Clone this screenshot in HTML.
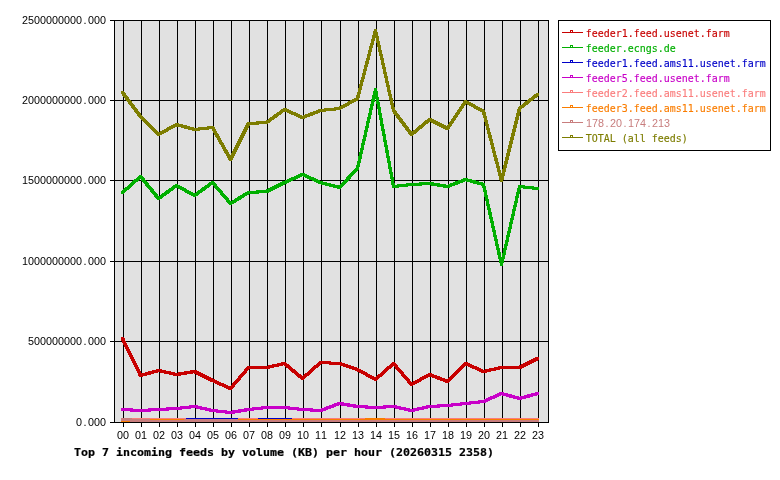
<!DOCTYPE html>
<html><head><meta charset="utf-8"><title>Top 7 incoming feeds by volume</title>
<style>html,body{margin:0;padding:0;background:#fff}svg{display:block}text{font-family:"DejaVu Sans Mono","Liberation Mono",monospace}text.d{font-family:"Liberation Sans","DejaVu Sans",sans-serif}</style></head><body>
<svg width="780" height="480" viewBox="0 0 780 480">
<rect width="780" height="480" fill="#fff"/>
<rect x="114" y="20" width="435" height="403" fill="#e1e1e1"/>
<g shape-rendering="crispEdges" fill="#000">
<rect x="123" y="20" width="1" height="407"/>
<rect x="141" y="20" width="1" height="407"/>
<rect x="159" y="20" width="1" height="407"/>
<rect x="177" y="20" width="1" height="407"/>
<rect x="195" y="20" width="1" height="407"/>
<rect x="213" y="20" width="1" height="407"/>
<rect x="231" y="20" width="1" height="407"/>
<rect x="249" y="20" width="1" height="407"/>
<rect x="267" y="20" width="1" height="407"/>
<rect x="285" y="20" width="1" height="407"/>
<rect x="303" y="20" width="1" height="407"/>
<rect x="321" y="20" width="1" height="407"/>
<rect x="340" y="20" width="1" height="407"/>
<rect x="358" y="20" width="1" height="407"/>
<rect x="376" y="20" width="1" height="407"/>
<rect x="394" y="20" width="1" height="407"/>
<rect x="412" y="20" width="1" height="407"/>
<rect x="430" y="20" width="1" height="407"/>
<rect x="448" y="20" width="1" height="407"/>
<rect x="466" y="20" width="1" height="407"/>
<rect x="484" y="20" width="1" height="407"/>
<rect x="502" y="20" width="1" height="407"/>
<rect x="520" y="20" width="1" height="407"/>
<rect x="538" y="20" width="1" height="407"/>
<rect x="110" y="20" width="439" height="1"/>
<rect x="110" y="100" width="439" height="1"/>
<rect x="110" y="180" width="439" height="1"/>
<rect x="110" y="261" width="439" height="1"/>
<rect x="110" y="341" width="439" height="1"/>
<rect x="110" y="422" width="439" height="1"/>
<rect x="114" y="20" width="1" height="403"/>
<rect x="548" y="20" width="1" height="403"/>
</g>
<g shape-rendering="crispEdges">
<path d="M121.00,337.45 124.00,337.45 142.00,374.45 142.00,376.55 139.00,376.55 121.00,339.55ZM139.45,377.00 139.45,374.00 157.45,369.00 159.55,369.00 159.55,372.00 141.55,377.00ZM157.45,369.00 159.55,369.00 177.55,373.00 177.55,376.00 175.45,376.00 157.45,372.00ZM175.45,376.00 175.45,373.00 193.45,370.00 195.55,370.00 195.55,373.00 177.55,376.00ZM193.45,370.00 195.55,370.00 213.55,379.00 213.55,382.00 211.45,382.00 193.45,373.00ZM211.45,379.00 213.55,379.00 231.55,387.00 231.55,390.00 229.45,390.00 211.45,382.00ZM229.00,389.55 229.00,387.45 247.00,366.45 250.00,366.45 250.00,368.55 232.00,389.55ZM247.45,366.00 249.55,366.00 267.55,366.00 267.55,369.00 265.45,369.00 247.45,369.00ZM265.45,369.00 265.45,366.00 283.45,362.00 285.55,362.00 285.55,365.00 267.55,369.00ZM283.45,362.00 285.55,362.00 303.55,377.00 303.55,380.00 301.45,380.00 283.45,365.00ZM301.45,380.00 301.45,377.00 319.45,361.00 321.55,361.00 321.55,364.00 303.55,380.00ZM319.45,361.00 321.55,361.00 340.55,362.00 340.55,365.00 338.45,365.00 319.45,364.00ZM338.45,362.00 340.55,362.00 358.55,368.00 358.55,371.00 356.45,371.00 338.45,365.00ZM356.45,368.00 358.55,368.00 376.55,378.00 376.55,381.00 374.45,381.00 356.45,371.00ZM374.45,381.00 374.45,378.00 392.45,362.00 394.55,362.00 394.55,365.00 376.55,381.00ZM392.00,362.45 395.00,362.45 413.00,383.45 413.00,385.55 410.00,385.55 392.00,364.55ZM410.45,386.00 410.45,383.00 428.45,373.00 430.55,373.00 430.55,376.00 412.55,386.00ZM428.45,373.00 430.55,373.00 448.55,380.00 448.55,383.00 446.45,383.00 428.45,376.00ZM446.45,383.00 446.45,380.00 464.45,362.00 466.55,362.00 466.55,365.00 448.55,383.00ZM464.45,362.00 466.55,362.00 484.55,370.00 484.55,373.00 482.45,373.00 464.45,365.00ZM482.45,373.00 482.45,370.00 500.45,366.00 502.55,366.00 502.55,369.00 484.55,373.00ZM500.45,366.00 502.55,366.00 520.55,366.00 520.55,369.00 518.45,369.00 500.45,369.00ZM518.45,369.00 518.45,366.00 536.45,357.00 538.55,357.00 538.55,360.00 520.55,369.00ZM121.0,337.0h3v3h-3ZM139.0,374.0h3v3h-3ZM157.0,369.0h3v3h-3ZM175.0,373.0h3v3h-3ZM193.0,370.0h3v3h-3ZM211.0,379.0h3v3h-3ZM229.0,387.0h3v3h-3ZM247.0,366.0h3v3h-3ZM265.0,366.0h3v3h-3ZM283.0,362.0h3v3h-3ZM301.0,377.0h3v3h-3ZM319.0,361.0h3v3h-3ZM338.0,362.0h3v3h-3ZM356.0,368.0h3v3h-3ZM374.0,378.0h3v3h-3ZM392.0,362.0h3v3h-3ZM410.0,383.0h3v3h-3ZM428.0,373.0h3v3h-3ZM446.0,380.0h3v3h-3ZM464.0,362.0h3v3h-3ZM482.0,370.0h3v3h-3ZM500.0,366.0h3v3h-3ZM518.0,366.0h3v3h-3ZM536.0,357.0h3v3h-3Z" fill="#c80000"/>
<path d="M121.45,194.00 121.45,191.00 139.45,175.00 141.55,175.00 141.55,178.00 123.55,194.00ZM139.00,175.45 142.00,175.45 160.00,197.45 160.00,199.55 157.00,199.55 139.00,177.55ZM157.45,200.00 157.45,197.00 175.45,184.00 177.55,184.00 177.55,187.00 159.55,200.00ZM175.45,184.00 177.55,184.00 195.55,194.00 195.55,197.00 193.45,197.00 175.45,187.00ZM193.45,197.00 193.45,194.00 211.45,181.00 213.55,181.00 213.55,184.00 195.55,197.00ZM211.00,181.45 214.00,181.45 232.00,202.45 232.00,204.55 229.00,204.55 211.00,183.55ZM229.45,205.00 229.45,202.00 247.45,191.00 249.55,191.00 249.55,194.00 231.55,205.00ZM247.45,194.00 247.45,191.00 265.45,190.00 267.55,190.00 267.55,193.00 249.55,194.00ZM265.45,193.00 265.45,190.00 283.45,181.00 285.55,181.00 285.55,184.00 267.55,193.00ZM283.45,184.00 283.45,181.00 301.45,173.00 303.55,173.00 303.55,176.00 285.55,184.00ZM301.45,173.00 303.55,173.00 321.55,181.00 321.55,184.00 319.45,184.00 301.45,176.00ZM319.45,181.00 321.55,181.00 340.55,186.00 340.55,189.00 338.45,189.00 319.45,184.00ZM338.00,188.55 338.00,186.45 356.00,167.45 359.00,167.45 359.00,169.55 341.00,188.55ZM356.00,169.55 356.00,167.45 374.00,88.45 377.00,88.45 377.00,90.55 359.00,169.55ZM374.00,88.45 377.00,88.45 395.00,185.45 395.00,187.55 392.00,187.55 374.00,90.55ZM392.45,188.00 392.45,185.00 410.45,183.00 412.55,183.00 412.55,186.00 394.55,188.00ZM410.45,186.00 410.45,183.00 428.45,182.00 430.55,182.00 430.55,185.00 412.55,186.00ZM428.45,182.00 430.55,182.00 448.55,185.00 448.55,188.00 446.45,188.00 428.45,185.00ZM446.45,188.00 446.45,185.00 464.45,178.00 466.55,178.00 466.55,181.00 448.55,188.00ZM464.45,178.00 466.55,178.00 484.55,183.00 484.55,186.00 482.45,186.00 464.45,181.00ZM482.00,183.45 485.00,183.45 503.00,263.45 503.00,265.55 500.00,265.55 482.00,185.55ZM500.00,265.55 500.00,263.45 518.00,185.45 521.00,185.45 521.00,187.55 503.00,265.55ZM518.45,185.00 520.55,185.00 538.55,187.00 538.55,190.00 536.45,190.00 518.45,188.00ZM121.0,191.0h3v3h-3ZM139.0,175.0h3v3h-3ZM157.0,197.0h3v3h-3ZM175.0,184.0h3v3h-3ZM193.0,194.0h3v3h-3ZM211.0,181.0h3v3h-3ZM229.0,202.0h3v3h-3ZM247.0,191.0h3v3h-3ZM265.0,190.0h3v3h-3ZM283.0,181.0h3v3h-3ZM301.0,173.0h3v3h-3ZM319.0,181.0h3v3h-3ZM338.0,186.0h3v3h-3ZM356.0,167.0h3v3h-3ZM374.0,88.0h3v3h-3ZM392.0,185.0h3v3h-3ZM410.0,183.0h3v3h-3ZM428.0,182.0h3v3h-3ZM446.0,185.0h3v3h-3ZM464.0,178.0h3v3h-3ZM482.0,183.0h3v3h-3ZM500.0,263.0h3v3h-3ZM518.0,185.0h3v3h-3ZM536.0,187.0h3v3h-3Z" fill="#00af00"/>
<path d="M121.45,408.00 123.55,408.00 141.55,409.00 141.55,412.00 139.45,412.00 121.45,411.00ZM139.45,412.00 139.45,409.00 157.45,408.00 159.55,408.00 159.55,411.00 141.55,412.00ZM157.45,411.00 157.45,408.00 175.45,407.00 177.55,407.00 177.55,410.00 159.55,411.00ZM175.45,410.00 175.45,407.00 193.45,405.00 195.55,405.00 195.55,408.00 177.55,410.00ZM193.45,405.00 195.55,405.00 213.55,409.00 213.55,412.00 211.45,412.00 193.45,408.00ZM211.45,409.00 213.55,409.00 231.55,411.00 231.55,414.00 229.45,414.00 211.45,412.00ZM229.45,414.00 229.45,411.00 247.45,408.00 249.55,408.00 249.55,411.00 231.55,414.00ZM247.45,411.00 247.45,408.00 265.45,406.00 267.55,406.00 267.55,409.00 249.55,411.00ZM265.45,406.00 267.55,406.00 285.55,406.00 285.55,409.00 283.45,409.00 265.45,409.00ZM283.45,406.00 285.55,406.00 303.55,408.00 303.55,411.00 301.45,411.00 283.45,409.00ZM301.45,408.00 303.55,408.00 321.55,409.00 321.55,412.00 319.45,412.00 301.45,411.00ZM319.45,412.00 319.45,409.00 338.45,402.00 340.55,402.00 340.55,405.00 321.55,412.00ZM338.45,402.00 340.55,402.00 358.55,405.00 358.55,408.00 356.45,408.00 338.45,405.00ZM356.45,405.00 358.55,405.00 376.55,406.00 376.55,409.00 374.45,409.00 356.45,408.00ZM374.45,409.00 374.45,406.00 392.45,405.00 394.55,405.00 394.55,408.00 376.55,409.00ZM392.45,405.00 394.55,405.00 412.55,409.00 412.55,412.00 410.45,412.00 392.45,408.00ZM410.45,412.00 410.45,409.00 428.45,405.00 430.55,405.00 430.55,408.00 412.55,412.00ZM428.45,408.00 428.45,405.00 446.45,404.00 448.55,404.00 448.55,407.00 430.55,408.00ZM446.45,407.00 446.45,404.00 464.45,402.00 466.55,402.00 466.55,405.00 448.55,407.00ZM464.45,405.00 464.45,402.00 482.45,400.00 484.55,400.00 484.55,403.00 466.55,405.00ZM482.45,403.00 482.45,400.00 500.45,392.00 502.55,392.00 502.55,395.00 484.55,403.00ZM500.45,392.00 502.55,392.00 520.55,397.00 520.55,400.00 518.45,400.00 500.45,395.00ZM518.45,400.00 518.45,397.00 536.45,392.00 538.55,392.00 538.55,395.00 520.55,400.00ZM121.0,408.0h3v3h-3ZM139.0,409.0h3v3h-3ZM157.0,408.0h3v3h-3ZM175.0,407.0h3v3h-3ZM193.0,405.0h3v3h-3ZM211.0,409.0h3v3h-3ZM229.0,411.0h3v3h-3ZM247.0,408.0h3v3h-3ZM265.0,406.0h3v3h-3ZM283.0,406.0h3v3h-3ZM301.0,408.0h3v3h-3ZM319.0,409.0h3v3h-3ZM338.0,402.0h3v3h-3ZM356.0,405.0h3v3h-3ZM374.0,406.0h3v3h-3ZM392.0,405.0h3v3h-3ZM410.0,409.0h3v3h-3ZM428.0,405.0h3v3h-3ZM446.0,404.0h3v3h-3ZM464.0,402.0h3v3h-3ZM482.0,400.0h3v3h-3ZM500.0,392.0h3v3h-3ZM518.0,397.0h3v3h-3ZM536.0,392.0h3v3h-3Z" fill="#c800c8"/>
<rect x="121" y="418" width="418" height="4" fill="#c87d7d"/>
<rect x="121" y="421" width="9" height="1" fill="#fa7d00"/>
<rect x="150" y="419" width="34" height="1" fill="#fa7d00"/>
<rect x="238" y="419" width="301" height="1" fill="#fa7d00"/>
<rect x="132" y="418" width="54" height="1" fill="#fa7d7d"/>
<rect x="186" y="418" width="52" height="1" fill="#0000c8"/>
<rect x="238" y="418" width="20" height="1" fill="#fa7d7d"/>
<rect x="258" y="418" width="34" height="1" fill="#0000c8"/>
<rect x="292" y="418" width="73" height="1" fill="#fa7d7d"/>
<rect x="365" y="418" width="20" height="1" fill="#fa7d00"/>
<rect x="385" y="418" width="154" height="1" fill="#fa7d7d"/>
<path d="M121.00,91.45 124.00,91.45 142.00,115.45 142.00,117.55 139.00,117.55 121.00,93.55ZM139.45,115.00 141.55,115.00 159.55,133.00 159.55,136.00 157.45,136.00 139.45,118.00ZM157.45,136.00 157.45,133.00 175.45,123.00 177.55,123.00 177.55,126.00 159.55,136.00ZM175.45,123.00 177.55,123.00 195.55,128.00 195.55,131.00 193.45,131.00 175.45,126.00ZM193.45,131.00 193.45,128.00 211.45,126.00 213.55,126.00 213.55,129.00 195.55,131.00ZM211.00,126.45 214.00,126.45 232.00,158.45 232.00,160.55 229.00,160.55 211.00,128.55ZM229.00,160.55 229.00,158.45 247.00,122.45 250.00,122.45 250.00,124.55 232.00,160.55ZM247.45,125.00 247.45,122.00 265.45,121.00 267.55,121.00 267.55,124.00 249.55,125.00ZM265.45,124.00 265.45,121.00 283.45,108.00 285.55,108.00 285.55,111.00 267.55,124.00ZM283.45,108.00 285.55,108.00 303.55,116.00 303.55,119.00 301.45,119.00 283.45,111.00ZM301.45,119.00 301.45,116.00 319.45,109.00 321.55,109.00 321.55,112.00 303.55,119.00ZM319.45,112.00 319.45,109.00 338.45,107.00 340.55,107.00 340.55,110.00 321.55,112.00ZM338.45,110.00 338.45,107.00 356.45,97.00 358.55,97.00 358.55,100.00 340.55,110.00ZM356.00,99.55 356.00,97.45 374.00,29.45 377.00,29.45 377.00,31.55 359.00,99.55ZM374.00,29.45 377.00,29.45 395.00,109.45 395.00,111.55 392.00,111.55 374.00,31.55ZM392.00,109.45 395.00,109.45 413.00,133.45 413.00,135.55 410.00,135.55 392.00,111.55ZM410.45,136.00 410.45,133.00 428.45,118.00 430.55,118.00 430.55,121.00 412.55,136.00ZM428.45,118.00 430.55,118.00 448.55,127.00 448.55,130.00 446.45,130.00 428.45,121.00ZM446.00,129.55 446.00,127.45 464.00,100.45 467.00,100.45 467.00,102.55 449.00,129.55ZM464.45,100.00 466.55,100.00 484.55,110.00 484.55,113.00 482.45,113.00 464.45,103.00ZM482.00,110.45 485.00,110.45 503.00,179.45 503.00,181.55 500.00,181.55 482.00,112.55ZM500.00,181.55 500.00,179.45 518.00,107.45 521.00,107.45 521.00,109.55 503.00,181.55ZM518.45,110.00 518.45,107.00 536.45,93.00 538.55,93.00 538.55,96.00 520.55,110.00ZM121.0,91.0h3v3h-3ZM139.0,115.0h3v3h-3ZM157.0,133.0h3v3h-3ZM175.0,123.0h3v3h-3ZM193.0,128.0h3v3h-3ZM211.0,126.0h3v3h-3ZM229.0,158.0h3v3h-3ZM247.0,122.0h3v3h-3ZM265.0,121.0h3v3h-3ZM283.0,108.0h3v3h-3ZM301.0,116.0h3v3h-3ZM319.0,109.0h3v3h-3ZM338.0,107.0h3v3h-3ZM356.0,97.0h3v3h-3ZM374.0,29.0h3v3h-3ZM392.0,109.0h3v3h-3ZM410.0,133.0h3v3h-3ZM428.0,118.0h3v3h-3ZM446.0,127.0h3v3h-3ZM464.0,100.0h3v3h-3ZM482.0,110.0h3v3h-3ZM500.0,179.0h3v3h-3ZM518.0,107.0h3v3h-3ZM536.0,93.0h3v3h-3Z" fill="#7d7d00"/>
</g>
<g font-family="'Liberation Sans','DejaVu Sans',sans-serif" font-size="11.2" fill="#000">
<text class="d" transform="translate(22,24) scale(0.9632,1)" x="0.00 6.23 12.46 18.69 24.92 31.15 37.38 43.61 49.84 56.06 63.85 68.52 74.75 80.98" y="0">2500000000.000</text>
<text class="d" transform="translate(22,104) scale(0.9632,1)" x="0.00 6.23 12.46 18.69 24.92 31.15 37.38 43.61 49.84 56.06 63.85 68.52 74.75 80.98" y="0">2000000000.000</text>
<text class="d" transform="translate(22,184) scale(0.9632,1)" x="0.00 6.23 12.46 18.69 24.92 31.15 37.38 43.61 49.84 56.06 63.85 68.52 74.75 80.98" y="0">1500000000.000</text>
<text class="d" transform="translate(22,265) scale(0.9632,1)" x="0.00 6.23 12.46 18.69 24.92 31.15 37.38 43.61 49.84 56.06 63.85 68.52 74.75 80.98" y="0">1000000000.000</text>
<text class="d" transform="translate(28,345) scale(0.9632,1)" x="0.00 6.23 12.46 18.69 24.92 31.15 37.38 43.61 49.84 57.62 62.29 68.52 74.75" y="0">500000000.000</text>
<text class="d" transform="translate(76,426) scale(0.9632,1)" x="0.00 7.79 12.46 18.69 24.92" y="0">0.000</text>
<text class="d" transform="translate(117,439) scale(0.9632,1)" x="0.00 6.23" y="0">00</text>
<text class="d" transform="translate(135,439) scale(0.9632,1)" x="0.00 6.23" y="0">01</text>
<text class="d" transform="translate(153,439) scale(0.9632,1)" x="0.00 6.23" y="0">02</text>
<text class="d" transform="translate(171,439) scale(0.9632,1)" x="0.00 6.23" y="0">03</text>
<text class="d" transform="translate(189,439) scale(0.9632,1)" x="0.00 6.23" y="0">04</text>
<text class="d" transform="translate(207,439) scale(0.9632,1)" x="0.00 6.23" y="0">05</text>
<text class="d" transform="translate(225,439) scale(0.9632,1)" x="0.00 6.23" y="0">06</text>
<text class="d" transform="translate(243,439) scale(0.9632,1)" x="0.00 6.23" y="0">07</text>
<text class="d" transform="translate(261,439) scale(0.9632,1)" x="0.00 6.23" y="0">08</text>
<text class="d" transform="translate(279,439) scale(0.9632,1)" x="0.00 6.23" y="0">09</text>
<text class="d" transform="translate(297,439) scale(0.9632,1)" x="0.00 6.23" y="0">10</text>
<text class="d" transform="translate(315,439) scale(0.9632,1)" x="0.00 6.23" y="0">11</text>
<text class="d" transform="translate(334,439) scale(0.9632,1)" x="0.00 6.23" y="0">12</text>
<text class="d" transform="translate(352,439) scale(0.9632,1)" x="0.00 6.23" y="0">13</text>
<text class="d" transform="translate(370,439) scale(0.9632,1)" x="0.00 6.23" y="0">14</text>
<text class="d" transform="translate(388,439) scale(0.9632,1)" x="0.00 6.23" y="0">15</text>
<text class="d" transform="translate(406,439) scale(0.9632,1)" x="0.00 6.23" y="0">16</text>
<text class="d" transform="translate(424,439) scale(0.9632,1)" x="0.00 6.23" y="0">17</text>
<text class="d" transform="translate(442,439) scale(0.9632,1)" x="0.00 6.23" y="0">18</text>
<text class="d" transform="translate(460,439) scale(0.9632,1)" x="0.00 6.23" y="0">19</text>
<text class="d" transform="translate(478,439) scale(0.9632,1)" x="0.00 6.23" y="0">20</text>
<text class="d" transform="translate(496,439) scale(0.9632,1)" x="0.00 6.23" y="0">21</text>
<text class="d" transform="translate(514,439) scale(0.9632,1)" x="0.00 6.23" y="0">22</text>
<text class="d" transform="translate(532,439) scale(0.9632,1)" x="0.00 6.23" y="0">23</text>
</g>
<text x="74" y="456" font-size="11" font-weight="bold" fill="#000" stroke="#000" stroke-width="0.2" textLength="420" lengthAdjust="spacingAndGlyphs">Top 7 incoming feeds by volume (KB) per hour (20260315 2358)</text>
<g shape-rendering="crispEdges" fill="none" stroke="#000"><rect x="558.5" y="20.5" width="212" height="130"/></g>
<g font-size="11">
<g shape-rendering="crispEdges" fill="#c80000"><rect x="562" y="32" width="21" height="1"/><rect x="570" y="30" width="3" height="1"/><rect x="570" y="31" width="1" height="1"/><rect x="572" y="31" width="1" height="1"/></g>
<text x="585.7" y="37" fill="#c80000" stroke="#c80000" stroke-width="0.15" textLength="144" lengthAdjust="spacingAndGlyphs">feeder1.feed.usenet.farm</text>
<g shape-rendering="crispEdges" fill="#00af00"><rect x="562" y="47" width="21" height="1"/><rect x="570" y="45" width="3" height="1"/><rect x="570" y="46" width="1" height="1"/><rect x="572" y="46" width="1" height="1"/></g>
<text x="585.7" y="52" fill="#00af00" stroke="#00af00" stroke-width="0.15" textLength="90" lengthAdjust="spacingAndGlyphs">feeder.ecngs.de</text>
<g shape-rendering="crispEdges" fill="#0000c8"><rect x="562" y="62" width="21" height="1"/><rect x="570" y="60" width="3" height="1"/><rect x="570" y="61" width="1" height="1"/><rect x="572" y="61" width="1" height="1"/></g>
<text x="585.7" y="67" fill="#0000c8" stroke="#0000c8" stroke-width="0.15" textLength="180" lengthAdjust="spacingAndGlyphs">feeder1.feed.ams11.usenet.farm</text>
<g shape-rendering="crispEdges" fill="#c800c8"><rect x="562" y="77" width="21" height="1"/><rect x="570" y="75" width="3" height="1"/><rect x="570" y="76" width="1" height="1"/><rect x="572" y="76" width="1" height="1"/></g>
<text x="585.7" y="82" fill="#c800c8" stroke="#c800c8" stroke-width="0.15" textLength="144" lengthAdjust="spacingAndGlyphs">feeder5.feed.usenet.farm</text>
<g shape-rendering="crispEdges" fill="#fa7d7d"><rect x="562" y="92" width="21" height="1"/><rect x="570" y="90" width="3" height="1"/><rect x="570" y="91" width="1" height="1"/><rect x="572" y="91" width="1" height="1"/></g>
<text x="585.7" y="97" fill="#fa7d7d" stroke="#fa7d7d" stroke-width="0.15" textLength="180" lengthAdjust="spacingAndGlyphs">feeder2.feed.ams11.usenet.farm</text>
<g shape-rendering="crispEdges" fill="#fa7d00"><rect x="562" y="107" width="21" height="1"/><rect x="570" y="105" width="3" height="1"/><rect x="570" y="106" width="1" height="1"/><rect x="572" y="106" width="1" height="1"/></g>
<text x="585.7" y="112" fill="#fa7d00" stroke="#fa7d00" stroke-width="0.15" textLength="180" lengthAdjust="spacingAndGlyphs">feeder3.feed.ams11.usenet.farm</text>
<g shape-rendering="crispEdges" fill="#c87d7d"><rect x="562" y="122" width="21" height="1"/><rect x="570" y="120" width="3" height="1"/><rect x="570" y="121" width="1" height="1"/><rect x="572" y="121" width="1" height="1"/></g>
<g font-family="'Liberation Sans','DejaVu Sans',sans-serif" font-size="11.2"><text class="d" transform="translate(586,127) scale(0.9632,1)" x="0.00 6.23 12.46 20.25 24.92 31.15 38.93 43.61 49.84 56.06 63.85 68.52 74.75 80.98" y="0" fill="#c87d7d">178.20.174.213</text></g>
<g shape-rendering="crispEdges" fill="#7d7d00"><rect x="562" y="137" width="21" height="1"/><rect x="570" y="135" width="3" height="1"/><rect x="570" y="136" width="1" height="1"/><rect x="572" y="136" width="1" height="1"/></g>
<text x="585.7" y="142" fill="#7d7d00" stroke="#7d7d00" stroke-width="0.15" textLength="102" lengthAdjust="spacingAndGlyphs">TOTAL (all feeds)</text>
</g>
</svg></body></html>
